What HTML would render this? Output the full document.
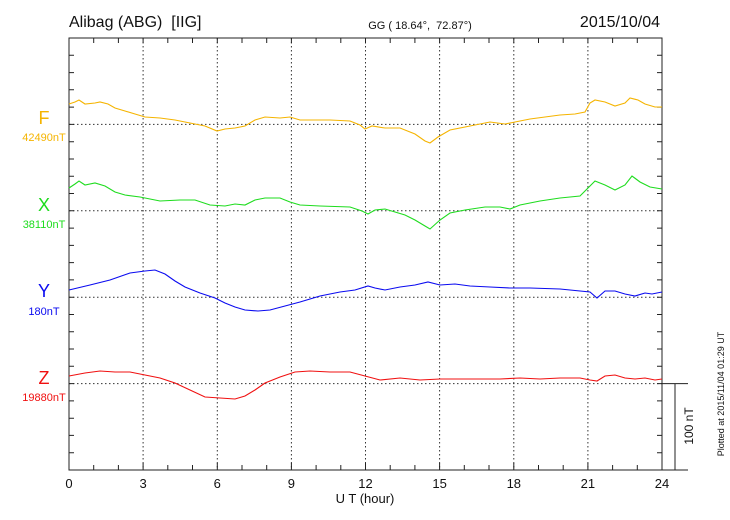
<!DOCTYPE html>
<html><head><meta charset="utf-8"><style>
body{margin:0;background:#fff;}
svg{display:block;font-family:"Liberation Sans",sans-serif;}
</style></head><body>
<svg width="730" height="520" viewBox="0 0 730 520" xmlns="http://www.w3.org/2000/svg">
<rect width="730" height="520" fill="#fff"/>
<g stroke="#333" stroke-width="1" stroke-dasharray="1.5,2.5" fill="none">
<path d="M143.1 38V470M217.3 38V470M291.4 38V470M365.5 38V470M439.6 38V470M513.8 38V470M587.9 38V470"/>
<path d="M69 124.4H662M69 210.8H662M69 297.2H662M69 383.6H662"/>
</g>
<g stroke="#222" stroke-width="1" fill="none">
<rect x="69" y="38" width="593" height="432"/>
<path d="M93.7 38v5M118.4 38v5M143.1 38v5M167.8 38v5M192.5 38v5M217.3 38v5M242 38v5M266.7 38v5M291.4 38v5M316.1 38v5M340.8 38v5M365.5 38v5M390.2 38v5M414.9 38v5M439.6 38v5M464.3 38v5M489 38v5M513.8 38v5M538.5 38v5M563.2 38v5M587.9 38v5M612.6 38v5M637.3 38v5"/>
<path d="M93.7 470v-5M118.4 470v-5M143.1 470v-7M167.8 470v-5M192.5 470v-5M217.3 470v-7M242 470v-5M266.7 470v-5M291.4 470v-7M316.1 470v-5M340.8 470v-5M365.5 470v-7M390.2 470v-5M414.9 470v-5M439.6 470v-7M464.3 470v-5M489 470v-5M513.8 470v-7M538.5 470v-5M563.2 470v-5M587.9 470v-7M612.6 470v-5M637.3 470v-5"/>
<path d="M69 55.3h5M69 72.6h5M69 89.8h5M69 107.1h5M69 124.4h5M69 141.7h5M69 159h5M69 176.2h5M69 193.5h5M69 210.8h5M69 228.1h5M69 245.4h5M69 262.6h5M69 279.9h5M69 297.2h5M69 314.5h5M69 331.8h5M69 349h5M69 366.3h5M69 383.6h5M69 400.9h5M69 418.2h5M69 435.4h5M69 452.7h5"/>
<path d="M662 55.3h-5M662 72.6h-5M662 89.8h-5M662 107.1h-5M662 124.4h-5M662 141.7h-5M662 159h-5M662 176.2h-5M662 193.5h-5M662 210.8h-5M662 228.1h-5M662 245.4h-5M662 262.6h-5M662 279.9h-5M662 297.2h-5M662 314.5h-5M662 331.8h-5M662 349h-5M662 366.3h-5M662 383.6h-5M662 400.9h-5M662 418.2h-5M662 435.4h-5M662 452.7h-5"/>
<path d="M662 383.6H688M675 383.6V470M662 470H688"/>
</g>
<g fill="none" stroke-width="1.1">
<polyline stroke="#f5b400" points="69,104 75,102 79,100 85,104 95,103 100,102 108,104 115,108 125,111 135,114 145,117 160,118 175,120 190,123 205,126 217,131 225,129 235,128 245,126 255,120 265,117 280,118 290,117 300,120 310,120 330,120 350,121 360,125 365,129 372,126 385,128 400,128 415,134 425,141 430,143 438,137 450,130 470,126 490,122 505,124 515,122 530,119 545,117 560,115 575,114 585,112 590,103 595,100 605,102 615,106 625,103 630,98 638,100 645,104 655,107 662,107"/>
<polyline stroke="#1edc1e" points="69,188 75,184 79,181 85,185 95,183 105,186 115,192 125,195 140,197 160,201 180,200 195,200 210,205 225,206 235,204 245,205 255,200 265,198 280,198 290,202 300,205 320,206 350,207 362,211 368,214 375,210 385,209 395,212 405,215 415,220 425,226 430,229 440,220 450,213 465,210 485,207 500,207 510,209 520,205 540,201 560,198 580,196 588,188 595,181 605,185 615,190 625,185 632,176 640,182 650,187 662,189"/>
<polyline stroke="#0a0af0" points="69,290 90,285 110,280 130,273 145,271 155,270 165,274 175,281 185,287 200,293 215,298 225,303 235,307 245,310 258,311 270,310 285,306 300,302 320,296 340,292 355,290 368,286 375,288 385,290 400,287 415,285 428,282 440,285 455,284 470,286 490,287 510,288 530,288 560,289 590,292 597,298 605,291 615,291 625,294 635,296 645,293 652,294 662,292"/>
<polyline stroke="#f01010" points="69,376 85,373 100,371 115,372 130,372 145,375 160,378 175,383 190,390 205,397 220,398 235,399 245,396 255,390 265,383 280,377 295,372 310,371 330,372 350,372 365,376 380,380 400,378 420,380 440,379 470,379 500,379 520,378 540,379 560,378 580,378 590,380 597,381 605,376 615,375 625,378 635,379 645,378 655,380 662,379"/>
</g>
<g font-size="16" fill="#111">
<text x="69" y="27">Alibag (ABG)&#160;&#160;[IIG]</text>
<text x="660" y="27" text-anchor="end">2015/10/04</text>
</g>
<text x="420" y="29" font-size="11" text-anchor="middle" fill="#111">GG ( 18.64°,&#160; 72.87°)</text>
<g text-anchor="middle">
<text x="44" y="124" font-size="18" fill="#f5b400">F</text>
<text x="44" y="141" font-size="11" fill="#f5b400">42490nT</text>
<text x="44" y="211" font-size="18" fill="#1edc1e">X</text>
<text x="44" y="228" font-size="11" fill="#1edc1e">38110nT</text>
<text x="44" y="297" font-size="18" fill="#0a0af0">Y</text>
<text x="44" y="315" font-size="11" fill="#0a0af0">180nT</text>
<text x="44" y="384" font-size="18" fill="#f01010">Z</text>
<text x="44" y="401" font-size="11" fill="#f01010">19880nT</text>
</g>
<g font-size="13" fill="#111" text-anchor="middle">
<text x="69" y="488">0</text><text x="143.1" y="488">3</text><text x="217.3" y="488">6</text><text x="291.4" y="488">9</text><text x="365.5" y="488">12</text><text x="439.6" y="488">15</text><text x="513.8" y="488">18</text><text x="587.9" y="488">21</text><text x="662" y="488">24</text>
<text x="365" y="503">U T (hour)</text>
</g>
<text transform="translate(693,426) rotate(-90)" font-size="12" text-anchor="middle" fill="#111">100 nT</text>
<text transform="translate(724,394) rotate(-90)" font-size="9" text-anchor="middle" fill="#111">Plotted at 2015/11/04 01:29 UT</text>
</svg>
</body></html>
